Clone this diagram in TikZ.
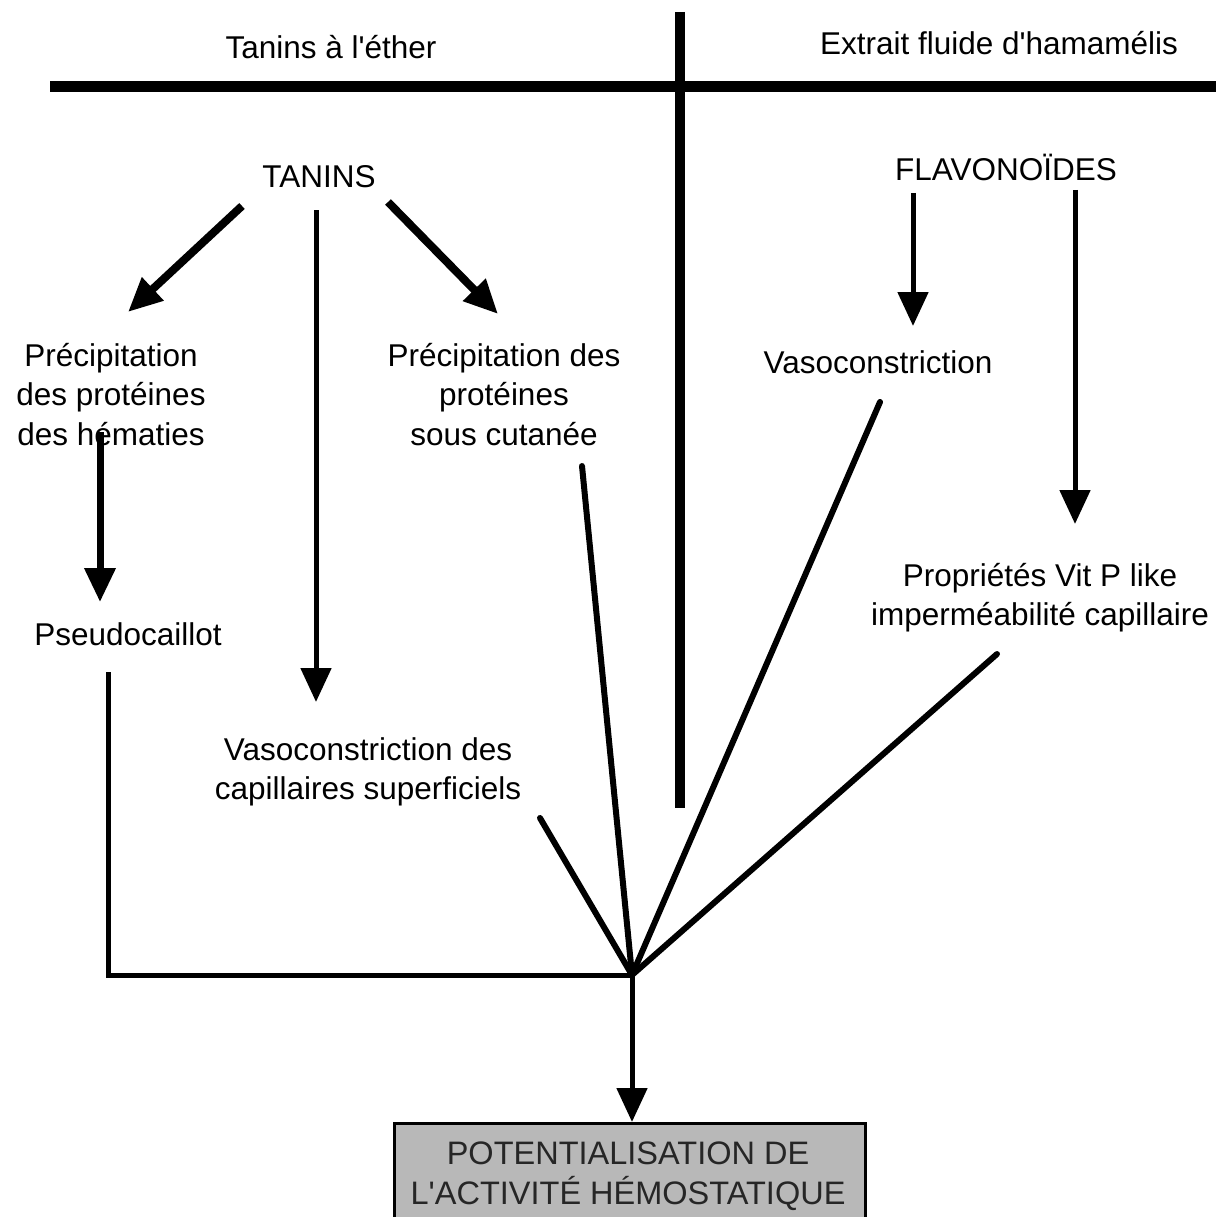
\documentclass[tikz,border=0pt]{standalone}
\usepackage{fontspec}
\setmainfont{Liberation Sans}
\usetikzlibrary{arrows.meta}
\begin{document}
\begin{tikzpicture}[x=1pt,y=-1pt,
  lbl/.style={align=center,inner sep=0pt,font=\fontsize{31.5}{39.5}\selectfont},
  thick1/.style={line width=8pt},
  thin1/.style={line width=5pt},
  arr/.style={-{Triangle[length=34pt,width=30pt]}},
  rule/.style={line width=11pt}]
\useasboundingbox (0,0) rectangle (1216,1217);
% header
\node[lbl] (h1) at (331,47) {Tanins à l\textquotesingle éther};
\node[lbl] (h2) at (999,43) {Extrait fluide d\textquotesingle hamamélis};
\coordinate (hl) at (50,87); \coordinate (hr) at (1216,87);
\coordinate (vt) at (680,12); \coordinate (vb) at (680,808);
\draw[rule] (hl) -- (hr);
\draw[line width=10pt] (vt) -- (vb);
% nodes
\node[lbl] (tan) at (319,177) {TANINS};
\node[lbl] (fla) at (1006,167) {FLAVONOÏDES};
\node[lbl,anchor=north] (pph) at (111,343) {Précipitation\\des protéines\\des hématies};
\node[lbl,anchor=north] (pps) at (504,343) {Précipitation des\\protéines\\sous cutanée};
\node[lbl] (vaso) at (878,362) {Vasoconstriction};
\node[lbl] (pseudo) at (128,634) {Pseudocaillot};
\node[lbl,anchor=north] (prop) at (1040,563) {Propriétés Vit P like\\imperméabilité capillaire};
\node[lbl,anchor=north] (vcap) at (368,737) {Vasoconstriction des\\capillaires superficiels};
\node[draw,line width=3pt,fill=black!28,minimum width=471pt,minimum height=100pt,anchor=north west] (box) at (393,1122) {};
\node[lbl,font=\fontsize{32.5}{39.5}\selectfont,text=black!85] (boxt) at (628,1176) {POTENTIALISATION DE\\L\textquotesingle ACTIVITÉ HÉMOSTATIQUE};
% coordinates
\coordinate (a1s) at (242,206); \coordinate (a1e) at (128,312);
\coordinate (a2s) at (316,210); \coordinate (a2e) at (316,702);
\coordinate (a3s) at (388,202); \coordinate (a3e) at (498,314);
\coordinate (a4s) at (100,432); \coordinate (a4e) at (100,602);
\coordinate (f1s) at (913,193); \coordinate (f1e) at (913,326);
\coordinate (f2s) at (1075,190); \coordinate (f2e) at (1075,524);
\coordinate (c) at (632,975);
\coordinate (ps) at (108,672); \coordinate (pc) at (108,975);
\coordinate (l1) at (540,818);
\coordinate (l2) at (582,466);
\coordinate (l3) at (880,402);
\coordinate (l4) at (997,654);
% arrows
\draw[thick1,arr] (a1s) -- (a1e);
\draw[thin1,arr] (a2s) -- (a2e);
\draw[thick1,arr] (a3s) -- (a3e);
\draw[line width=7pt,arr] (a4s) -- (a4e);
\draw[thin1,arr] (f1s) -- (f1e);
\draw[thin1,arr] (f2s) -- (f2e);
\draw[thin1] (ps) -- (pc) -- (c);
\draw[line width=6pt,line cap=round] (l1) -- (c);
\draw[line width=6pt,line cap=round] (l2) -- (c);
\draw[line width=6pt,line cap=round] (l3) -- (c);
\draw[line width=6pt,line cap=round] (l4) -- (c);
\draw[thin1,arr] (c) -- (box.north -| c);
\end{tikzpicture}
\end{document}
